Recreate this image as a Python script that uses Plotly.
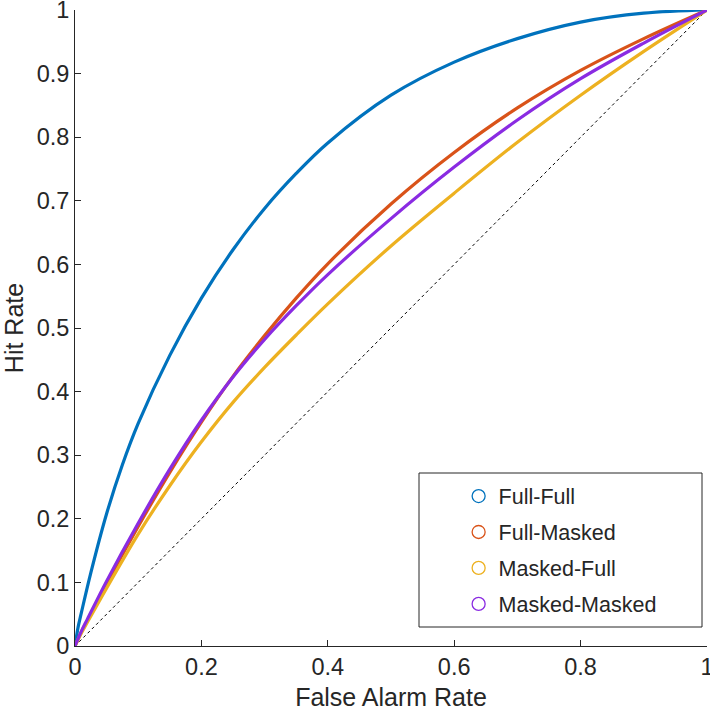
import plotly.graph_objects as go

# ---- data ----
ff_x = [0, 0.005, 0.01, 0.025, 0.05, 0.075, 0.1, 0.15, 0.2, 0.25, 0.3, 0.35, 0.4, 0.5, 0.6, 0.7, 0.8, 0.9, 1]
ff_y = [0, 0.03, 0.052, 0.115, 0.208, 0.285, 0.35, 0.457, 0.547, 0.623, 0.688, 0.743, 0.791, 0.866, 0.918, 0.955, 0.981, 0.995, 1]

fm_x = [0, 0.01, 0.02, 0.05, 0.1, 0.15, 0.2, 0.25, 0.3, 0.35, 0.4, 0.5, 0.6, 0.7, 0.8, 0.9, 1]
fm_y = [0, 0.022, 0.041, 0.098, 0.188, 0.273, 0.352, 0.424, 0.488, 0.547, 0.601, 0.695, 0.776, 0.846, 0.905, 0.955, 1]

mf_x = [0, 0.01, 0.02, 0.05, 0.1, 0.15, 0.2, 0.25, 0.3, 0.35, 0.4, 0.5, 0.6, 0.7, 0.8, 0.9, 1]
mf_y = [0, 0.02, 0.038, 0.091, 0.176, 0.252, 0.321, 0.383, 0.438, 0.489, 0.538, 0.629, 0.712, 0.792, 0.866, 0.935, 1]

mm_x = [0, 0.01, 0.02, 0.05, 0.1, 0.15, 0.2, 0.25, 0.3, 0.35, 0.4, 0.5, 0.6, 0.7, 0.8, 0.9, 1]
mm_y = [0, 0.023, 0.043, 0.102, 0.193, 0.278, 0.355, 0.423, 0.482, 0.535, 0.584, 0.672, 0.753, 0.827, 0.892, 0.948, 1]

chance = [0, 1]

names = ["Full-Full", "Full-Masked", "Masked-Full", "Masked-Masked"]
colors = ["#0072BD", "#D95319", "#EDB120", "#8A2BE2"]
series = [(ff_x, ff_y), (fm_x, fm_y), (mf_x, mf_y), (mm_x, mm_y)]

tick_vals_x = [0, 0.2, 0.4, 0.6, 0.8, 1]
tick_text_x = ["0", "0.2", "0.4", "0.6", "0.8", "1"]
tick_vals_y = [0, 0.1, 0.2, 0.3, 0.4, 0.5, 0.6, 0.7, 0.8, 0.9, 1]
tick_text_y = ["0", "0.1", "0.2", "0.3", "0.4", "0.5", "0.6", "0.7", "0.8", "0.9", "1"]

FONT = "Liberation Sans, Arial, Helvetica, sans-serif"
TXT = "#262626"

fig = go.Figure()

fig.add_trace(go.Scatter(x=chance, y=chance, mode="lines",
                         line=dict(color="black", width=1, dash="dot"),
                         showlegend=False, hoverinfo="skip"))

for (xs, ys), name, col in zip(series, names, colors):
    fig.add_trace(go.Scatter(x=xs, y=ys, mode="lines",
                             line=dict(color=col, width=3.2, shape="spline", smoothing=1.0),
                             showlegend=False, name=name))

for name, col in zip(names, colors):
    fig.add_trace(go.Scatter(x=[None], y=[None], mode="markers", name=name, legendgroup=name,
                             marker=dict(symbol="circle-open", size=13, color=col, line=dict(width=1.3, color=col))))

fig.update_layout(
    width=710, height=711,
    margin=dict(l=75, r=3, t=10, b=65),
    paper_bgcolor="white", plot_bgcolor="white",
    font=dict(family=FONT, color=TXT, size=22),
    showlegend=True,
    legend=dict(x=0.607, y=0.268, xanchor="left", yanchor="top",
                bgcolor="rgba(0,0,0,0)", borderwidth=0,
                font=dict(size=21.5, color=TXT, family=FONT),
                tracegroupgap=5, itemwidth=30),
    xaxis=dict(range=[0, 1], tickvals=tick_vals_x, ticktext=tick_text_x,
               ticks="inside", ticklen=6, tickwidth=1, tickcolor=TXT,
               showline=True, linecolor=TXT, linewidth=1, showgrid=False, zeroline=False,
               tickfont=dict(size=23.5, color=TXT), ticklabeloverflow="allow", automargin=False,
               title=dict(text="False Alarm Rate", font=dict(size=25, color=TXT))),
    yaxis=dict(range=[0, 1], tickvals=tick_vals_y, ticktext=tick_text_y,
               ticks="inside", ticklen=6, tickwidth=1, tickcolor=TXT,
               showline=True, linecolor=TXT, linewidth=1, showgrid=False, zeroline=False,
               tickfont=dict(size=23.5, color=TXT), ticklabeloverflow="allow", automargin=False,
               title=dict(text="Hit Rate", font=dict(size=25, color=TXT))),
    shapes=[dict(type="rect", xref="paper", yref="paper",
                 x0=(419 - 75) / 632, x1=(702 - 75) / 632,
                 y0=(646 - 627) / 636, y1=(646 - 473) / 636,
                 line=dict(color=TXT, width=1), fillcolor="rgba(0,0,0,0)", layer="above")],
)

fig.write_html("out.html")
